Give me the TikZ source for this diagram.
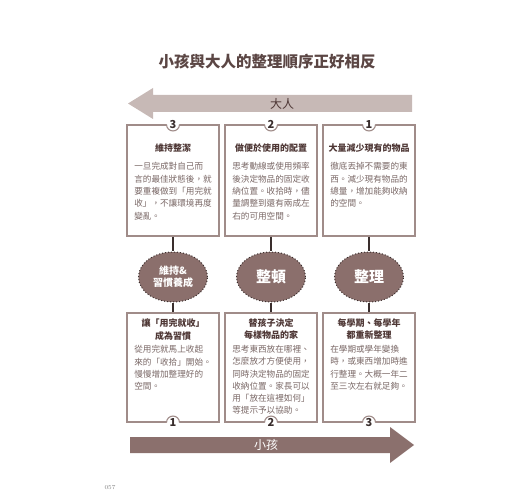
\documentclass[tikz,border=0pt]{standalone}
\usepackage{fontspec}
\newfontfamily\cjk{Noto Sans CJK TC}
\usetikzlibrary{positioning,shapes.geometric}
\definecolor{titlebrown}{HTML}{5B4644}
\definecolor{headtext}{HTML}{4E3735}
\definecolor{bodytext}{HTML}{7A6866}
\definecolor{cardline}{HTML}{A08C89}
\definecolor{lightarrow}{HTML}{C7B9B6}
\definecolor{darkarrow}{HTML}{8B706D}
\definecolor{ellfill}{HTML}{8B6F6C}
\definecolor{stemline}{HTML}{3A2E2D}
\tikzset{
  card/.style={draw=cardline,line width=1.1pt,fill=white,minimum width=92pt,inner sep=0pt},
  cardhead/.style={anchor=north,inner sep=0pt,align=center,text=headtext,font=\cjk\bfseries\fontsize{9}{12.5}\selectfont},
  cardbody/.style={anchor=north,inner sep=0pt,align=left,text=bodytext,font=\cjk\fontsize{8.6}{12.3}\selectfont},
  numdot/.style={circle,fill=white,minimum size=13pt,inner sep=0pt,outer sep=0pt,text=stemline,font=\cjk\bfseries\fontsize{11}{11}\selectfont},
  stage/.style={ellipse,draw=stemline,dotted,line width=1pt,fill=ellfill,minimum width=69pt,minimum height=50pt,inner sep=0pt,text=white,align=center},
  stem/.style={draw=stemline,line width=1.2pt},
  arrowlabel/.style={inner sep=0pt,font=\cjk\fontsize{12}{12}\selectfont}
}
\begin{document}
\begin{tikzpicture}[x=1pt,y=-1pt]
\path[use as bounding box] (0,0) rectangle (520,500);
\node[inner sep=0pt,text=titlebrown,font=\cjk\bfseries\fontsize{15.5}{16}\selectfont] (title) at (267,62) {小孩與大人的整理順序正好相反};

% adult arrow, pointing left
\fill[lightarrow] (412,95)--(153,95)--(153,88)--(128,103.5)--(153,119)--(153,112)--(412,112)--cycle;
\node[arrowlabel,text=headtext] (adult) at (282,103.5) {大人};

% upper cards
\node[card,minimum height=111pt] (t1) at (173,180.5) {};
\node[card,minimum height=111pt] (t2) at (271,180.5) {};
\node[card,minimum height=111pt] (t3) at (369,180.5) {};
\node[cardhead,below=19pt of t1.north] (t1h) {維持整潔};
\node[cardbody,below=10pt of t1h] (t1b) {一旦完成對自己而\\言的最佳狀態後，就\\要重複做到「用完就\\收」，不讓環境再度\\變亂。};
\node[cardhead,below=19pt of t2.north] (t2h) {做便於使用的配置};
\node[cardbody,below=10pt of t2h] (t2b) {思考動線或使用頻率\\後決定物品的固定收\\納位置。收拾時，儘\\量調整到還有兩成左\\右的可用空間。};
\node[cardhead,below=19pt of t3.north] (t3h) {大量減少現有的物品};
\node[cardbody,below=10pt of t3h] (t3b) {徹底丟掉不需要的東\\西。減少現有物品的\\總量，增加能夠收納\\的空間。};
\foreach \c/\n in {t1/3,t2/2,t3/1}{
  \node[numdot] (\c n) at (\c.north) {\n};
  \draw[draw=cardline,line width=1.1pt] (\c n.west) arc[start angle=180,end angle=360,radius=6.5pt];
}

% stages
\node[stage,font=\cjk\bfseries\fontsize{10}{12}\selectfont] (e1) at (173,277) {維持\&\\習慣養成};
\node[stage,font=\cjk\bfseries\fontsize{15}{15}\selectfont] (e2) at (271,277) {整頓};
\node[stage,font=\cjk\bfseries\fontsize{15}{15}\selectfont] (e3) at (369,277) {整理};

% lower cards
\node[card,minimum height=109pt] (b1) at (173,367.5) {};
\node[card,minimum height=109pt] (b2) at (271,367.5) {};
\node[card,minimum height=109pt] (b3) at (369,367.5) {};
\node[cardhead,below=6pt of b1.north] (b1h) {讓「用完就收」\\成為習慣};
\node[cardbody,below=5pt of b1h] (b1b) {從用完就馬上收起\\來的「收拾」開始。\\慢慢增加整理好的\\空間。};
\node[cardhead,below=6pt of b2.north] (b2h) {替孩子決定\\每樣物品的家};
\node[cardbody,below=5pt of b2h] (b2b) {思考東西放在哪裡、\\怎麼放才方便使用，\\同時決定物品的固定\\收納位置。家長可以\\用「放在這裡如何」\\等提示予以協助。};
\node[cardhead,below=6pt of b3.north] (b3h) {每學期、每學年\\都重新整理};
\node[cardbody,below=5pt of b3h] (b3b) {在學期或學年變換\\時，或東西增加時進\\行整理。大概一年二\\至三次左右就足夠。};
\foreach \c/\n in {b1/1,b2/2,b3/3}{
  \node[numdot] (\c n) at (\c.south) {\n};
  \draw[draw=cardline,line width=1.1pt] (\c n.west) arc[start angle=180,end angle=0,radius=6.5pt];
}

% stems
\foreach \i in {1,2,3}{
  \draw[stem] (t\i.south) -- (e\i.north);
  \draw[stem] (e\i.south) -- (b\i.north);
}

% child arrow, pointing right
\fill[darkarrow] (130,437)--(390,437)--(390,427)--(414,445)--(390,463)--(390,453)--(130,453)--cycle;
\node[arrowlabel,text=white] (child) at (266,445) {小孩};

\node[inner sep=0pt,text=gray,font=\fontsize{6}{7}\selectfont] (page) at (110,488) {057};
\end{tikzpicture}
\end{document}
